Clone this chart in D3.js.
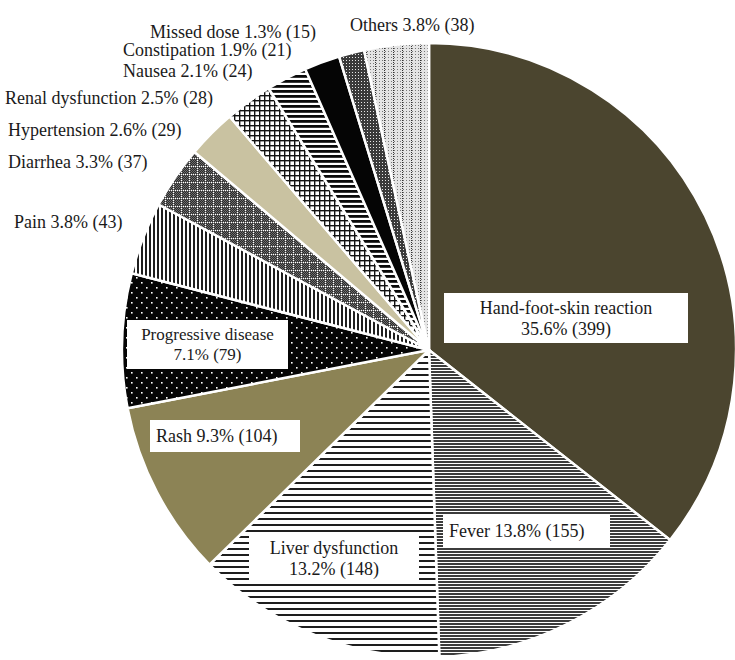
<!DOCTYPE html>
<html><head><meta charset="utf-8">
<script src="https://cdn.jsdelivr.net/npm/d3@7"></script>
<style>
html,body{margin:0;padding:0;background:#fff;}
</style></head>
<body>
<svg id="chart" width="735" height="660"></svg>
<script>
const categories = ["Hand-foot-skin reaction","Fever","Liver dysfunction","Rash","Progressive disease","Pain","Diarrhea","Hypertension","Renal dysfunction","Nausea","Constipation","Missed dose","Others"];
const counts = [399,155,148,104,79,43,37,29,28,24,21,15,38];
const percents = ["35.6%","13.8%","13.2%","9.3%","7.1%","3.8%","3.3%","2.6%","2.5%","2.1%","1.9%","1.3%","3.8%"];

const FONT = "'Liberation Serif', 'Times New Roman', Times, serif";
const svg = d3.select("#chart");
const cx = 429, cy = 350, R = 307;
const defs = svg.append("defs");

function pat(id, w, h, bg, draw){
  const p = defs.append("pattern").attr("id", id).attr("patternUnits","userSpaceOnUse")
    .attr("width", w).attr("height", h);
  if (bg) p.append("rect").attr("width", w).attr("height", h).attr("fill", bg);
  draw(p);
}
pat("p-fever", 6, 3, "#fff", p => p.append("rect").attr("y",0).attr("width",6).attr("height",2).attr("fill","#3c3c3c"));
pat("p-liver", 6, 6, "#fff", p => p.append("rect").attr("y",0).attr("width",6).attr("height",2).attr("fill","#1e1e1e"));
pat("p-pd", 10, 10, "#050505", p => {
  p.append("rect").attr("x",2).attr("y",2).attr("width",1.6).attr("height",1.6).attr("fill","#fff");
  p.append("rect").attr("x",7).attr("y",7).attr("width",1.6).attr("height",1.6).attr("fill","#fff");
});
pat("p-pain", 4, 6, "#fff", p => p.append("rect").attr("x",0).attr("width",2).attr("height",6).attr("fill","#1e1e1e"));
pat("p-diar", 8, 8, "#6b6b6b", p => {
  for (let x=0;x<8;x++) for (let y=0;y<8;y++) if ((x+y)%2===0) p.append("rect").attr("x",x).attr("y",y).attr("width",1).attr("height",1).attr("fill","#2a2a2a");
  for (let x=0;x<8;x+=2) p.append("rect").attr("x",x).attr("y",0).attr("width",1).attr("height",1).attr("fill","#fff");
  for (let y=0;y<8;y+=2) p.append("rect").attr("x",0).attr("y",y).attr("width",1).attr("height",1).attr("fill","#fff");
});
pat("p-renal", 5, 5, "#fff", p => {
  p.append("rect").attr("x",0).attr("y",0).attr("width",5).attr("height",1.4).attr("fill","#111");
  p.append("rect").attr("x",0).attr("y",0).attr("width",1.4).attr("height",5).attr("fill","#111");
});
pat("p-nausea", 6, 5, "#fff", p => p.append("rect").attr("y",0).attr("width",6).attr("height",2.8).attr("fill","#0a0a0a"));
pat("p-missed", 3, 3, "#3a3a3a", p => {
  p.append("rect").attr("x",1).attr("y",1).attr("width",1).attr("height",1).attr("fill","#e8e8e8");
});
pat("p-others", 9, 6, "#e4e4e4", p => {
  for (let x=0;x<9;x+=3) for (let y=0;y<6;y+=3) p.append("rect").attr("x",x+1).attr("y",y+1).attr("width",1).attr("height",1).attr("fill","#777");
  for (let y=0;y<6;y+=2) p.append("rect").attr("x",0).attr("y",y).attr("width",1).attr("height",1).attr("fill","#333");
});

const fills = ["#4b452f","url(#p-fever)","url(#p-liver)","#8c8355","url(#p-pd)","url(#p-pain)","url(#p-diar)","#c9c2a1","url(#p-renal)","url(#p-nausea)","#050505","url(#p-missed)","url(#p-others)"];

const data = categories.map((c,i)=>({cat:c, count:counts[i], pct:percents[i], fill:fills[i]}));
const pie = d3.pie().value(d=>d.count).sort(null).startAngle(0).endAngle(2*Math.PI);
const arc = d3.arc().innerRadius(0).outerRadius(R);

const g = svg.append("g").attr("transform",`translate(${cx},${cy})`);
g.selectAll("path.slice").data(pie(data)).join("path")
  .attr("class","slice")
  .attr("d", arc)
  .attr("fill", d=>d.data.fill)
  .attr("stroke","#fff")
  .attr("stroke-width",2.5)
  .attr("stroke-linejoin","round");

const fs = 18;
function boxed(x, y, w, h, lines, anchor, size, lh){
  size = size || fs; lh = lh || 21;
  svg.append("rect").attr("x",x).attr("y",y).attr("width",w).attr("height",h).attr("fill","#fff");
  const t = svg.append("text").attr("font-size",size).attr("font-family",FONT).attr("fill","#1a1a1a").attr("text-anchor",anchor);
  const tx = anchor==="middle" ? x+w/2 : x+6;
  const y0 = y + h/2 - (lines.length-1)*lh/2 + size/3;
  lines.forEach((l,i)=>t.append("tspan").attr("x",tx).attr("y",y0+i*lh).text(l));
}
const lab = i => `${categories[i]} ${percents[i]} (${counts[i]})`;
const num = i => `${percents[i]} (${counts[i]})`;
boxed(444, 293, 244, 50, [categories[0], num(0)], "middle");
boxed(443, 515, 167, 32, [lab(1)], "start");
boxed(249, 532, 170, 52, [categories[2], num(2)], "middle");
boxed(150, 420, 150, 32, [lab(3)], "start");
boxed(127, 320, 161, 49, [categories[4], `${percents[4]}  (${counts[4]})`], "middle", 17, 20);

const outside = [
  {i:12, x:350, y:31},
  {i:11, x:150, y:38},
  {i:10, x:123, y:56},
  {i:9,  x:123, y:77},
  {i:8,  x:5,   y:104},
  {i:7,  x:8,   y:136},
  {i:6,  x:8,   y:168},
  {i:5,  x:14,  y:228}
];
svg.selectAll("text.out").data(outside).join("text")
  .attr("class","out")
  .attr("x",d=>d.x).attr("y",d=>d.y)
  .attr("font-size",fs)
  .attr("font-family",FONT)
  .attr("fill","#1a1a1a")
  .text(d=>lab(d.i));
</script>
</body></html>
